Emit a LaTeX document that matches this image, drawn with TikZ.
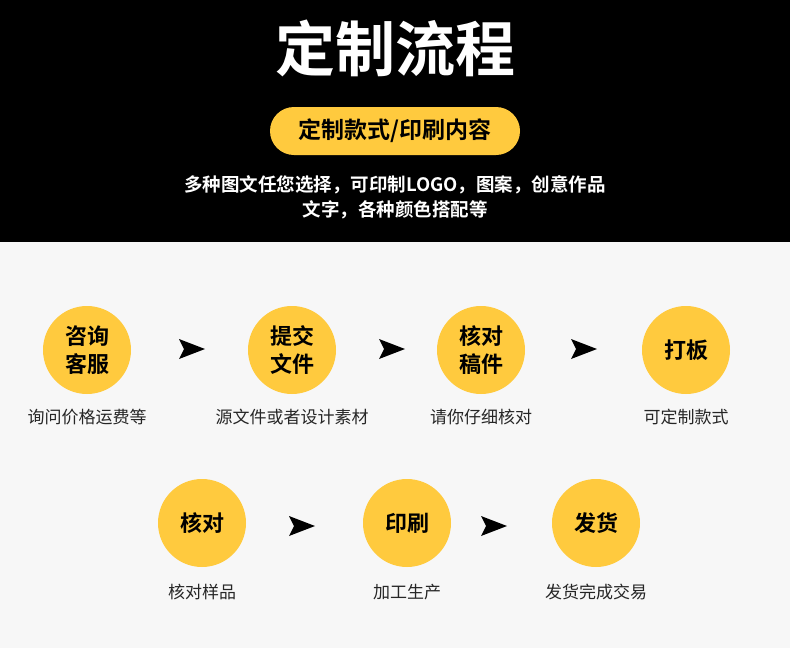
\documentclass[tikz,border=0pt]{standalone}
\usepackage{fontspec}
\setmainfont{Noto Sans CJK SC}
\newfontfamily\cjkb{Noto Sans CJK SC Bold}
\definecolor{yel}{HTML}{FFCA3E}
\definecolor{bg}{HTML}{F7F7F7}
\begin{document}
\begin{tikzpicture}[x=1pt,y=-1pt,
  circ/.style={circle,fill=yel,minimum size=88pt,inner sep=0pt,align=center,font=\cjkb\fontsize{22}{28}\selectfont},
  lab/.style={font=\fontsize{17}{20}\selectfont,text=black!85},
  arr/.style={fill=black}]
\useasboundingbox (0,0) rectangle (790,648);
\fill[bg] (0,0) rectangle (790,648);
\fill[black] (0,0) rectangle (790,242);
\node[text=white,font=\cjkb\fontsize{60}{68}\selectfont] (title) at (395,48) {定制流程};
\node[fill=yel,rounded corners=24pt,minimum width=250pt,minimum height=48pt,font=\cjkb\fontsize{23}{27}\selectfont] (pill) at (395,131) {定制款式/印刷内容};
\node[text=white,align=center,font=\cjkb\fontsize{18.5}{25}\selectfont] (desc) at (395,197) {多种图文任您选择，可印制LOGO，图案，创意作品\\文字，各种颜色搭配等};
\newcommand{\myarrow}[2]{\fill[arr] (#1-13,#2-10) -- (#1+13,#2) -- (#1-13,#2+10) -- (#1-8,#2) -- cycle;}
\node[circ] (c1) at (87,350) {咨询\\客服};
\node[circ] (c2) at (292,350) {提交\\文件};
\node[circ] (c3) at (481,350) {核对\\稿件};
\node[circ] (c4) at (686,350) {打板};
\node[circ] (c5) at (202,523) {核对};
\node[circ] (c6) at (407,523) {印刷};
\node[circ] (c7) at (596,523) {发货};
\node[lab] (l1) at (87,417) {询问价格运费等};
\node[lab] (l2) at (292,417) {源文件或者设计素材};
\node[lab] (l3) at (481,417) {请你仔细核对};
\node[lab] (l4) at (686,417) {可定制款式};
\node[lab] (l5) at (202,592) {核对样品};
\node[lab] (l6) at (407,592) {加工生产};
\node[lab] (l7) at (596,592) {发货完成交易};
\myarrow{192}{349}
\myarrow{392}{349}
\myarrow{584}{349}
\myarrow{302}{526}
\myarrow{494}{526}
\end{tikzpicture}
\end{document}
